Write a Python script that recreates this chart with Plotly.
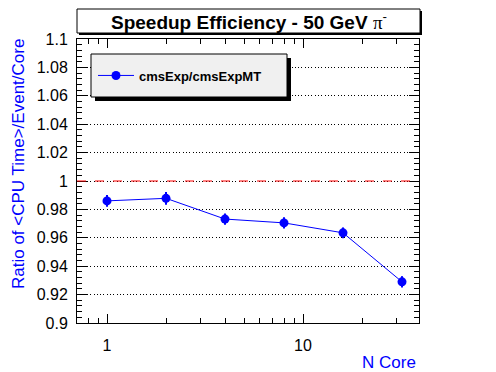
import math
import plotly.graph_objects as go

# ---- data ----
n_core = [1, 2, 4, 8, 16, 32]
ratio = [0.9860, 0.9878, 0.9732, 0.9705, 0.9635, 0.9290]
ratio_err = [0.0042, 0.0045, 0.0040, 0.0040, 0.0038, 0.0040]

y_tickvals = [0.9, 0.92, 0.94, 0.96, 0.98, 1.0, 1.02, 1.04, 1.06, 1.08, 1.1]
y_ticktext = ["0.9", "0.92", "0.94", "0.96", "0.98", "1", "1.02", "1.04", "1.06", "1.08", "1.1"]
x_tickvals = [1, 10]
x_ticktext = ["1", "10"]
x_minorvals = [0.8, 0.9, 2, 3, 4, 5, 6, 7, 8, 9, 20, 30]

series_name = "cmsExp/cmsExpMT"
title_text = "Speedup Efficiency - 50 GeV "
y_title = "Ratio of &lt;CPU Time&gt;/Event/Core"
x_title = "N Core"

# ---- geometry (window pixels; the page body has an 8px margin) ----
OFF = 8
W, H = 496 - OFF, 372 - OFF
L, R, T, B = 77, 419, 39, 323   # plot frame in window pixels
pw, ph = R - L, B - T


def px(x):
    return (x - L) / pw


def py(y):
    return (B - y) / ph


FONT = "Liberation Sans, Arial, Helvetica, sans-serif"
BLUE = "#0000ff"

fig = go.Figure()
fig.add_trace(go.Scatter(
    x=n_core, y=ratio, mode="lines+markers", name=series_name,
    line=dict(color=BLUE, width=1),
    marker=dict(color=BLUE, size=9, symbol="circle"),
    error_y=dict(type="data", array=ratio_err, color=BLUE, thickness=2, width=0),
))

shapes = [
    dict(type="line", xref="paper", yref="y", x0=0, x1=1, y0=1.0, y1=1.0,
         line=dict(color="red", width=1, dash="dash"), layer="above"),
    dict(type="rect", xref="paper", yref="paper",
         x0=px(95), x1=px(291), y0=py(101), y1=py(58),
         fillcolor="black", line=dict(width=0), layer="above"),
    dict(type="rect", xref="paper", yref="paper",
         x0=px(91), x1=px(287), y0=py(97), y1=py(54),
         fillcolor="#f0f0f0", line=dict(color="black", width=1), layer="above"),
    dict(type="rect", xref="paper", yref="paper",
         x0=px(79), x1=px(422), y0=py(35), y1=py(11),
         fillcolor="black", line=dict(width=0), layer="above"),
    dict(type="rect", xref="paper", yref="paper",
         x0=px(77), x1=px(420), y0=py(33), y1=py(9),
         fillcolor="white", line=dict(color="black", width=1), layer="above"),
]

annotations = [
    dict(xref="paper", yref="paper", x=px(248.5), y=py(21.5),
         xanchor="center", yanchor="middle", showarrow=False,
         text="<b>" + title_text + "</b><span style=\"font-family:'Liberation Serif'\">π</span><sup>-</sup>",
         font=dict(family=FONT, size=19, color="black")),
    dict(xref="paper", yref="paper", x=px(18), y=py(37),
         xanchor="center", yanchor="top", showarrow=False, textangle=-90,
         text=y_title, font=dict(family=FONT, size=17, color=BLUE)),
    dict(xref="paper", yref="paper", x=px(418), y=py(362),
         xanchor="right", yanchor="middle", showarrow=False,
         text=x_title, font=dict(family=FONT, size=17, color=BLUE)),
]

fig.update_layout(
    width=W, height=H,
    margin=dict(l=L - OFF, r=W - (R - OFF), t=T - OFF, b=H - (B - OFF), pad=0),
    paper_bgcolor="white", plot_bgcolor="white",
    font=dict(family=FONT, size=16, color="black"),
    showlegend=True,
    legend=dict(x=px(93), y=py(75.5), xanchor="left", yanchor="middle",
                bgcolor="rgba(0,0,0,0)", borderwidth=0, itemwidth=36,
                font=dict(family=FONT, size=13, color="black", weight="bold")),
    shapes=shapes, annotations=annotations,
    xaxis=dict(
        type="log", range=[math.log10(0.703), math.log10(39.07)],
        tickmode="array", tickvals=x_tickvals, ticktext=x_ticktext,
        ticks="inside", ticklen=9, tickwidth=1, tickcolor="black",
        showline=True, linecolor="black", linewidth=1, mirror="ticks",
        showgrid=False, zeroline=False, ticklabelstandoff=8,
        tickfont=dict(family=FONT, size=16, color="black"),
        minor=dict(tickmode="array", tickvals=x_minorvals, ticks="inside",
                   ticklen=5, tickcolor="black", showgrid=False),
    ),
    yaxis=dict(
        range=[0.9, 1.1],
        tickmode="array", tickvals=y_tickvals, ticktext=y_ticktext,
        ticks="inside", ticklen=10, tickwidth=1, tickcolor="black",
        showline=True, linecolor="black", linewidth=1, mirror="ticks",
        showgrid=True, gridcolor="black", gridwidth=1, griddash="1px,2.3px",
        zeroline=False, ticklabelstandoff=5,
        tickfont=dict(family=FONT, size=16, color="black"),
        minor=dict(dtick=0.004, tick0=0.9, ticks="inside", ticklen=5,
                   tickcolor="black", showgrid=False),
    ),
)

fig.write_html("out.html")
